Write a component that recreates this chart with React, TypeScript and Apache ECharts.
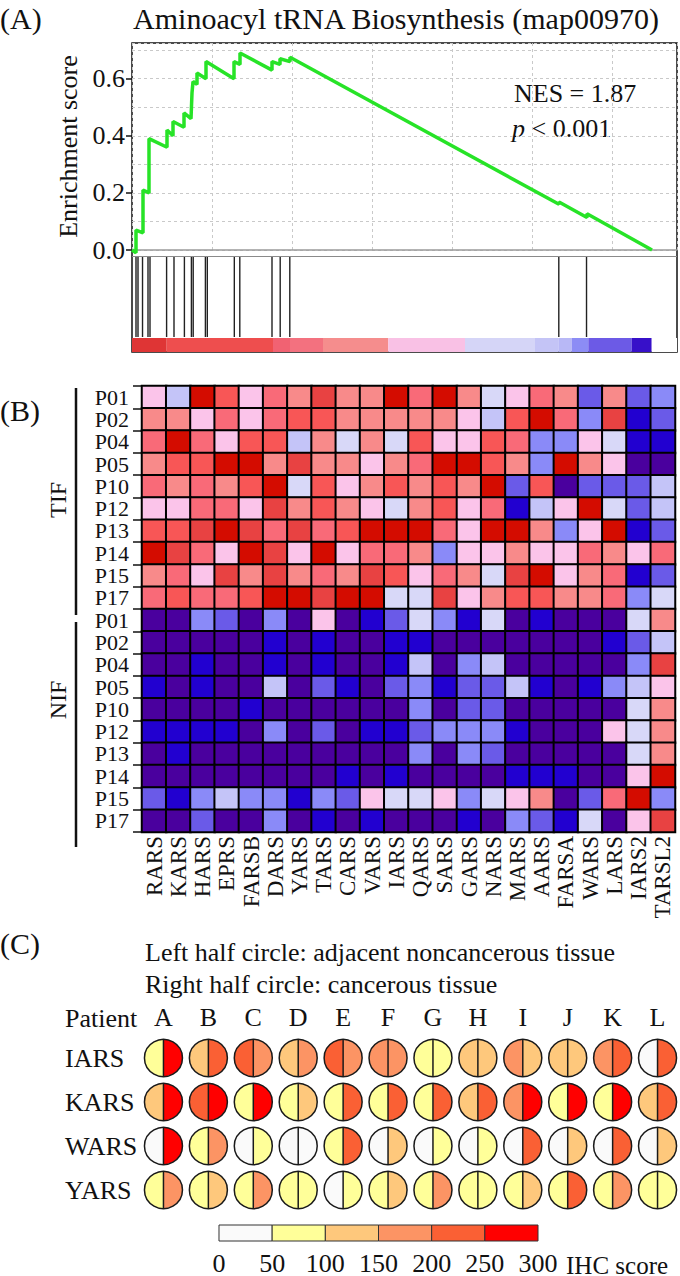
import React, { useEffect, useRef } from "react";
import * as echarts from "echarts";

const FONT = "Liberation Serif";
const INK = "#111111";

// ---------------- Panel A: GSEA ----------------
const panelATitle = "Aminoacyl tRNA Biosynthesis (map00970)";
const nesText = "NES = 1.87";
const pText = "< 0.001";
const rankMax = 13625;
const rankGridStep = 2000;
// running enrichment score vertices [gene rank, ES]
const esRanks = [0, 100, 100, 275, 275, 425, 425, 425, 425, 875, 875, 1025, 1025, 1300, 1300, 1475, 1500, 1525, 1625, 1625, 1850, 1850, 2550, 2550, 2700, 2700, 3500, 3500, 3700, 3700, 3950, 3950, 10675, 10675, 11375, 11375, 13000];
const esValues = [0, -0.01, 0.07, 0.06, 0.21, 0.2, 0.26, 0.33, 0.39, 0.36, 0.42, 0.4, 0.45, 0.43, 0.48, 0.46, 0.55, 0.59, 0.58, 0.62, 0.6, 0.66, 0.6, 0.66, 0.65, 0.69, 0.63, 0.66, 0.65, 0.67, 0.66, 0.675, 0.16, 0.168, 0.114, 0.127, 0];
const esTickLabels = [0, 0.2, 0.4, 0.6];
// gene set hits in ranked list
const hitRanks = [100, 150, 263, 400, 450, 865, 1050, 1310, 1485, 1530, 1835, 1883, 2558, 2695, 3500, 3705, 3945, 10670, 11363];
// ranked list metric colour bar
const segStarts = [0, 868, 3525, 3950, 4775, 6408, 8325, 10075, 10658, 10993, 11408, 12493, 12993];
const segEnds = [868, 3525, 3950, 4775, 6408, 8325, 10075, 10658, 10993, 11408, 12493, 12993, 13625];
const segColors = ["#df3535", "#ee4e4e", "#f16272", "#f3717f", "#f58d8d", "#f9c1e5", "#d5d5f7", "#c4c4f6", "#b8b8f6", "#8c8cf5", "#6c5ae6", "#3710c9", "#ffffff"];

// ---------------- Panel B: heatmap ----------------
const genes = ["RARS", "KARS", "HARS", "EPRS", "FARSB", "DARS", "YARS", "TARS", "CARS", "VARS", "IARS", "QARS", "SARS", "GARS", "NARS", "MARS", "AARS", "FARSA", "WARS", "LARS", "IARS2", "TARSL2"];
const patients = ["P01", "P02", "P04", "P05", "P10", "P12", "P13", "P14", "P15", "P17"];
const groups = ["TIF", "NIF"];
// relative expression level, -6 (lowest) .. 5 (highest)
const tifLevels = [
  [0, -2, 5, 3, 0, 2, 1, 4, 1, 1, 5, 2, 5, 1, -1, 0, 2, 1, -4, 1, -4, -3],
  [1, 1, 0, 2, 0, 2, 3, 3, 1, 1, 1, 1, 1, 0, -2, 3, 5, 2, -3, 4, -5, -4],
  [2, 5, 2, 0, 3, 3, -2, 1, -1, 1, -1, 3, 0, 0, 3, 2, -3, -3, 0, -1, -5, -5],
  [1, 3, 3, 5, 5, 1, 4, 1, 1, 0, 1, 2, 5, 5, 3, 1, -3, 5, 1, 0, -6, -6],
  [2, 1, 2, 1, 3, 5, -1, 3, 0, 1, 3, 1, 3, 1, 5, -4, 3, -6, -4, -4, -4, -2],
  [0, 0, 2, 2, 0, 4, 1, 3, 1, 0, -1, 1, 3, 0, 2, -5, -2, 0, 5, -1, -4, -2],
  [3, 3, 4, 5, 4, 2, 4, 2, 3, 5, 5, 5, 2, 0, 5, 5, 1, -3, 0, 5, -5, -4],
  [5, 4, 2, 0, 5, 4, 0, 5, 0, 2, 2, 1, -3, 0, 0, 1, 0, 0, 2, 1, 0, 2],
  [1, 2, 0, 4, 1, 4, 1, 2, 1, 4, 3, 0, 2, 1, -1, 4, 5, 0, 1, 2, -5, -4],
  [2, 3, 2, 2, 3, 5, 5, 4, 5, 5, -1, -1, 4, 0, 1, 3, 3, 1, 1, 2, -3, -1],
];
const nifLevels = [
  [-6, -6, -3, -4, -6, -3, -6, 0, -6, -5, -4, -1, -3, -5, -1, -6, -5, -6, -6, -6, -1, 1],
  [-6, -6, -6, -6, -6, -5, -6, -5, -6, -6, -5, -5, -6, -6, -6, -6, -6, -6, -6, -5, -4, -2],
  [-6, -6, -5, -6, -6, -5, -6, -5, -6, -6, -5, -2, -6, -3, -2, -6, -6, -6, -6, -6, -3, 4],
  [-5, -6, -5, -6, -6, -2, -6, -4, -5, -6, -4, -3, -5, -4, -4, -2, -5, -6, -5, -3, -2, 0],
  [-6, -6, -6, -6, -5, -6, -6, -6, -6, -6, -6, -3, -6, -4, -4, -6, -6, -6, -6, -6, -1, 1],
  [-5, -5, -5, -5, -6, -3, -6, -4, -6, -5, -5, -4, -3, -3, -3, -5, -6, -6, -6, 0, -1, 1],
  [-6, -5, -6, -6, -6, -6, -6, -6, -6, -6, -6, -3, -6, -3, -4, -6, -6, -6, -6, -6, -1, 1],
  [-6, -6, -6, -6, -6, -6, -6, -6, -5, -6, -5, -6, -6, -6, -6, -5, -5, -5, -6, -6, 0, 5],
  [-4, -5, -3, -2, -3, -3, -5, -3, -4, 0, -1, -1, 0, -3, -1, 0, 1, -6, -4, 2, 5, -3],
  [-6, -6, -4, -6, -6, -3, -6, -5, -6, -5, -6, -6, -6, -5, -6, -3, -4, -5, -1, -6, 0, 4],
];
const levelValues = [5, 4, 3, 2, 1, 0, -1, -2, -3, -4, -5, -6];
const levelColors = ["#d40c00", "#e84242", "#f85656", "#f96a78", "#f88a8a", "#fbc4ea", "#d8d8f8", "#c4c4f8", "#8a8af8", "#6a5ae8", "#2200d0", "#4a009e"];

// ---------------- Panel C: IHC ----------------
const ihcPatients = ["A", "B", "C", "D", "E", "F", "G", "H", "I", "J", "K", "L"];
const ihcGenes = ["IARS", "KARS", "WARS", "YARS"];
// IHC scores (bin midpoints); adjacent = left half, cancer = right half
const ihcAdjacent = [
  [75, 125, 225, 125, 225, 175, 75, 125, 175, 125, 175, 25],
  [125, 225, 75, 75, 75, 75, 75, 125, 175, 75, 75, 125],
  [25, 75, 25, 25, 75, 25, 25, 25, 25, 25, 25, 25],
  [75, 75, 75, 75, 25, 75, 75, 75, 75, 75, 75, 75],
];
const ihcCancer = [
  [275, 225, 175, 175, 175, 175, 75, 125, 125, 125, 225, 225],
  [275, 275, 275, 125, 225, 225, 225, 225, 275, 275, 275, 225],
  [275, 175, 75, 25, 225, 125, 75, 75, 225, 125, 225, 125],
  [175, 125, 175, 75, 75, 125, 175, 75, 125, 225, 175, 75],
];
const ihcBreaks = [0, 50, 100, 150, 200, 250, 300];
const ihcColors = ["#fafafa", "#ffff99", "#fec87c", "#fc9464", "#fa6034", "#ff0000"];

const ihcColor = (score: number) => ihcColors[Math.min(ihcColors.length - 1, Math.floor(score / 50))];

function txt(text: string, x: number, y: number, size: number, align = "left", extra: any = {}) {
  return {
    type: "text",
    x,
    y,
    silent: true,
    ...extra,
    style: {
      text,
      fontSize: size,
      fontFamily: FONT,
      fill: INK,
      align,
      verticalAlign: "middle",
      textAlign: align,
      textVerticalAlign: "middle",
      ...(extra.style || {}),
    },
  };
}

export default function App() {
  const ref = useRef<HTMLDivElement>(null);

  useEffect(() => {
    if (!ref.current) return;
    const chart = echarts.init(ref.current, undefined, { renderer: "svg" });

    const esData = esRanks.map((r, i) => [r, esValues[i]]);
    const rowKeys = [...patients.map((p) => groups[0] + " " + p), ...patients.map((p) => groups[1] + " " + p)];
    const heatData: number[][] = [];
    [tifLevels, nifLevels].forEach((mat, g) =>
      mat.forEach((row, r) => row.forEach((v, c) => heatData.push([c, g * patients.length + r, v])))
    );
    const circleData: number[][] = [];
    ihcGenes.forEach((_, r) =>
      ihcPatients.forEach((__, c) => circleData.push([c, r, ihcAdjacent[r][c], ihcCancer[r][c]]))
    );
    const legendData = ihcColors.map((_, i) => [ihcBreaks[i], ihcBreaks[i + 1], i]);
    const segData = segStarts.map((s, i) => [s, segEnds[i], i]);

    const dashed = { show: true, lineStyle: { color: "#c9c9c9", type: [3, 3], width: 1 } };
    const hiddenAxis = { show: false };

    const option: any = {
      animation: false,
      grid: [
        { left: 132, top: 43, width: 545, height: 207 },
        { left: 132, top: 257, width: 545, height: 80 },
        { left: 132, top: 338, width: 545, height: 14 },
        { left: 142, top: 386, width: 533, height: 446 },
        { left: 141, top: 1036, width: 541, height: 176 },
        { left: 219, top: 1225, width: 319, height: 18 },
      ],
      xAxis: [
        {
          gridIndex: 0, type: "value", min: 0, max: rankMax, interval: rankGridStep,
          axisLabel: { show: false }, axisTick: { show: false },
          axisLine: { show: true, lineStyle: { color: "#9a9a9a", width: 1.5 } },
          splitLine: dashed,
        },
        { gridIndex: 1, type: "value", min: 0, max: rankMax, ...hiddenAxis },
        { gridIndex: 2, type: "value", min: 0, max: rankMax, ...hiddenAxis },
        {
          gridIndex: 3, type: "category", data: genes, position: "bottom",
          axisLine: { show: false }, axisTick: { show: false },
          axisLabel: { rotate: 90, fontSize: 23, fontFamily: FONT, color: INK, margin: 4, interval: 0 },
        },
        {
          gridIndex: 4, type: "category", data: ihcPatients, position: "top",
          axisLine: { show: false }, axisTick: { show: false },
          axisLabel: { fontSize: 26, fontFamily: FONT, color: INK, margin: 6, interval: 0 },
        },
        {
          gridIndex: 5, type: "value", min: 0, max: 300, interval: 50,
          axisLine: { show: false }, axisTick: { show: false }, splitLine: { show: false },
          axisLabel: { fontSize: 26, fontFamily: FONT, color: INK, margin: 9 },
        },
      ],
      yAxis: [
        {
          gridIndex: 0, type: "value", min: 0, max: 0.725, interval: 0.1,
          axisLabel: { show: false }, axisTick: { show: false }, axisLine: { show: false },
          splitLine: dashed,
        },
        {
          gridIndex: 0, type: "value", min: 0, max: 0.725, interval: 0.2, position: "left",
          axisLine: { show: false }, splitLine: { show: false },
          axisTick: { show: true, length: 6, lineStyle: { color: INK, width: 1.5 } },
          axisLabel: {
            fontSize: 26, fontFamily: FONT, color: INK, margin: 7, showMaxLabel: false,
            formatter: (v: number) => (esTickLabels.some((t) => Math.abs(t - v) < 1e-6) ? v.toFixed(1) : ""),
          },
          name: "Enrichment score", nameLocation: "middle", nameGap: 45, nameRotate: 90,
          nameTextStyle: { fontSize: 26, fontFamily: FONT, color: INK },
        },
        { gridIndex: 1, type: "value", min: 0, max: 1, ...hiddenAxis },
        { gridIndex: 2, type: "value", min: 0, max: 1, ...hiddenAxis },
        {
          gridIndex: 3, type: "category", data: rowKeys, inverse: true,
          axisLine: { show: false },
          axisTick: { show: true, length: 9, lineStyle: { color: INK, width: 1.5 } },
          axisLabel: {
            fontSize: 22, lineHeight: 22, fontFamily: FONT, color: INK, margin: 13, interval: 0,
            formatter: (v: string) => v.split(" ")[1],
          },
        },
        {
          gridIndex: 4, type: "category", data: ihcGenes, inverse: true,
          axisLine: { show: false }, axisTick: { show: false },
          axisLabel: { fontSize: 26, fontFamily: FONT, color: INK, margin: 76, align: "left", interval: 0 },
        },
        { gridIndex: 5, type: "value", min: 0, max: 1, ...hiddenAxis },
      ],
      visualMap: {
        type: "piecewise", show: false, seriesIndex: 3, dimension: 2,
        pieces: levelValues.map((v, i) => ({ value: v, color: levelColors[i] })),
      },
      series: [
        {
          type: "line", xAxisIndex: 0, yAxisIndex: 0, data: esData, showSymbol: false, clip: false,
          lineStyle: { color: "#27e327", width: 3.5 }, silent: true,
        },
        {
          type: "custom", xAxisIndex: 1, yAxisIndex: 2, data: hitRanks.map((r) => [r, 0]),
          encode: { x: 0, y: 1 },
          renderItem: (_p: any, api: any) => {
            const a = api.coord([api.value(0), 1]);
            const b = api.coord([api.value(0), 0]);
            return { type: "line", shape: { x1: a[0], y1: a[1], x2: b[0], y2: b[1] }, style: { stroke: "#222", lineWidth: 1.4 } };
          },
        },
        {
          type: "custom", xAxisIndex: 2, yAxisIndex: 3, data: segData,
          encode: { x: [0, 1] },
          renderItem: (_p: any, api: any) => {
            const a = api.coord([api.value(0), 1]);
            const b = api.coord([api.value(1), 0]);
            return { type: "rect", shape: { x: a[0], y: a[1], width: b[0] - a[0], height: b[1] - a[1] }, style: { fill: segColors[api.value(2)] } };
          },
        },
        {
          type: "heatmap", xAxisIndex: 3, yAxisIndex: 4, data: heatData,
          itemStyle: { borderColor: "#000", borderWidth: 2 },
          emphasis: { disabled: true },
        },
        {
          type: "custom", xAxisIndex: 4, yAxisIndex: 5, data: circleData,
          encode: { x: 0, y: 1 },
          renderItem: (_p: any, api: any) => {
            const c = api.coord([api.value(0), api.value(1)]);
            const r = 19;
            return {
              type: "group", x: c[0], y: c[1], scaleY: 18.5 / 19,
              children: [
                { type: "sector", shape: { cx: 0, cy: 0, r0: 0, r, startAngle: Math.PI / 2, endAngle: Math.PI * 1.5, clockwise: true }, style: { fill: ihcColor(api.value(2)) } },
                { type: "sector", shape: { cx: 0, cy: 0, r0: 0, r, startAngle: -Math.PI / 2, endAngle: Math.PI / 2, clockwise: true }, style: { fill: ihcColor(api.value(3)) } },
                { type: "circle", shape: { cx: 0, cy: 0, r }, style: { fill: "none", stroke: "#1a1a1a", lineWidth: 1.5 } },
                { type: "line", shape: { x1: 0, y1: -r, x2: 0, y2: r }, style: { stroke: "#1a1a1a", lineWidth: 1.5 } },
              ],
            };
          },
        },
        {
          type: "custom", xAxisIndex: 5, yAxisIndex: 6, data: legendData,
          encode: { x: [0, 1] },
          renderItem: (_p: any, api: any) => {
            const a = api.coord([api.value(0), 1]);
            const b = api.coord([api.value(1), 0]);
            return { type: "rect", shape: { x: a[0], y: a[1], width: b[0] - a[0], height: b[1] - a[1] }, style: { fill: ihcColors[api.value(2)], stroke: "#333", lineWidth: 1 } };
          },
        },
      ],
      graphic: {
        elements: [
          txt("(A)", 0, 18, 30),
          txt(panelATitle, 396, 18, 30, "center"),
          { type: "rect", silent: true, shape: { x: 132, y: 43, width: 545, height: 309 }, style: { fill: "none", stroke: INK, lineWidth: 1.5 } },
          { type: "line", silent: true, shape: { x1: 132, y1: 256.5, x2: 677, y2: 256.5 }, style: { stroke: "#8a8a8a", lineWidth: 1 } },
          txt(nesText, 514, 93, 26),
          {
            type: "text", x: 512, y: 128, silent: true,
            style: {
              text: "{i|p} " + pText, fontSize: 26, fontFamily: FONT, fill: INK,
              verticalAlign: "middle", textVerticalAlign: "middle",
              rich: { i: { fontStyle: "italic", fontSize: 26, fontFamily: FONT, fill: INK } },
            },
          },
          txt("(B)", 0, 410, 30),
          txt("TIF", 58, 500, 24, "center", { rotation: Math.PI / 2 }),
          txt("NIF", 58, 700, 24, "center", { rotation: Math.PI / 2 }),
          { type: "line", silent: true, shape: { x1: 76, y1: 388, x2: 76, y2: 615 }, style: { stroke: INK, lineWidth: 2.5 } },
          { type: "line", silent: true, shape: { x1: 76, y1: 622, x2: 76, y2: 847 }, style: { stroke: INK, lineWidth: 2.5 } },
          txt("(C)", 0, 943, 30),
          txt("Left half circle: adjacent noncancerous tissue", 145, 952, 26),
          txt("Right half circle: cancerous tissue", 145, 984, 26),
          txt("Patient", 65, 1018, 26),
          txt("IHC score", 566, 1265, 25),
        ],
      },
    };

    chart.setOption(option);
    return () => chart.dispose();
  }, []);

  return <div ref={ref} style={{ position: "absolute", left: 0, top: 0, width: 680, height: 1276 }} />;
}
